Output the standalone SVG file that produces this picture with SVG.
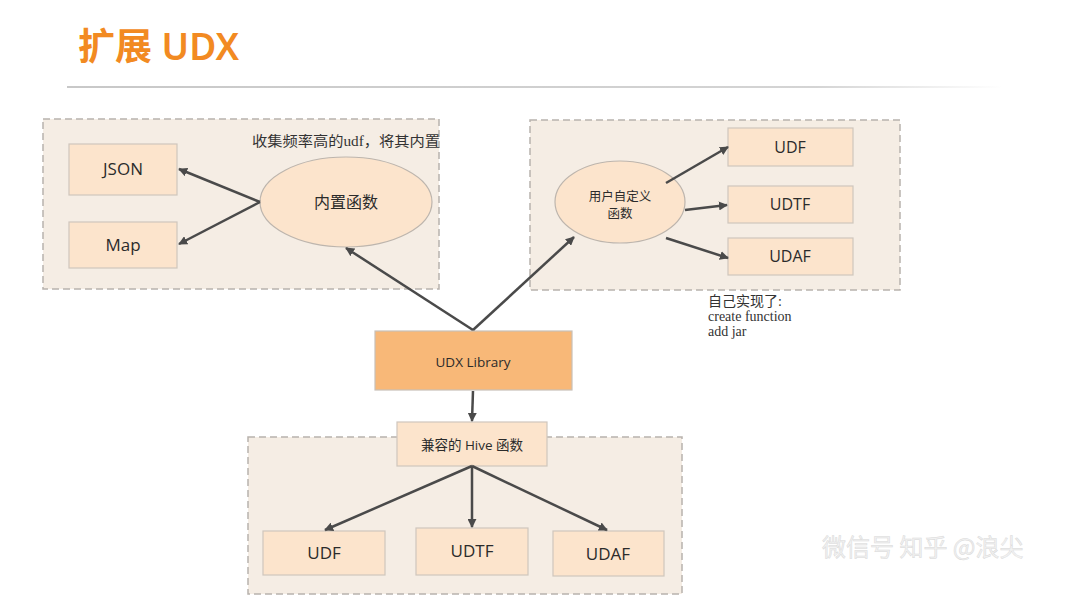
<svg xmlns="http://www.w3.org/2000/svg" width="1080" height="604" viewBox="0 0 1080 604">
<defs>
<linearGradient id="hr" x1="0" x2="1" y1="0" y2="0">
<stop offset="0" stop-color="#c8c8c8"/><stop offset="0.8" stop-color="#d4d4d4"/><stop offset="1" stop-color="#ffffff"/>
</linearGradient>
<marker id="ah" viewBox="0 0 10 10" refX="9" refY="5" markerWidth="9" markerHeight="9" markerUnits="userSpaceOnUse" orient="auto">
<path d="M0,0 L10,5 L0,10 z" fill="#4a4a4a"/>
</marker>
<style>
.grp{fill:#F5EDE4;stroke:#b8b2ad;stroke-width:1.5;stroke-dasharray:7 4}
.box{fill:#FCE4CC;stroke:#cfc6bd;stroke-width:1.2}
.ell{fill:#FCE4CC;stroke:#bdb5ad;stroke-width:1.2}
.lbl{font-family:"Open Sans","Noto Sans","Noto Sans CJK SC",sans-serif;fill:#2b2b2b;text-anchor:middle}
.note{font-family:"Liberation Serif","Noto Sans CJK SC",serif;fill:#333;font-size:14px}
.con line{stroke:#4a4a4a;stroke-width:2.5;marker-end:url(#ah)}
</style>
</defs>
<rect width="1080" height="604" fill="#ffffff"/>
<g id="title">
<text x="78" y="60" font-family="'Noto Sans','Noto Sans CJK SC',sans-serif" font-weight="600" font-size="37" fill="#F28A22">扩展 UDX</text>
<rect x="67" y="86" width="935" height="2" fill="url(#hr)"/>
</g>
<g id="group-builtin"><rect class="grp" x="43" y="119" width="396" height="170"/></g>
<g id="group-user"><rect class="grp" x="530" y="120" width="370" height="170"/></g>
<g id="group-hive"><rect class="grp" x="248" y="437" width="434" height="157"/></g>

<g id="note-builtin"><text class="note" x="252" y="146" font-size="14.5" textLength="188" lengthAdjust="spacingAndGlyphs">收集频率高的udf，将其内置</text></g>
<g id="note-user">
<text class="note" x="708" y="306" font-size="15">自己实现了:</text>
<text class="note" x="708" y="321">create function</text>
<text class="note" x="708" y="336">add jar</text>
</g>

<g id="node-json"><rect class="box" x="69" y="144" width="108" height="51"/><text class="lbl" x="123" y="175" font-size="17">JSON</text></g>
<g id="node-map"><rect class="box" x="69" y="222" width="108" height="46"/><text class="lbl" x="123" y="251" font-size="17">Map</text></g>
<g id="node-builtin"><ellipse class="ell" cx="346" cy="202" rx="86" ry="45"/><text class="lbl" x="346" y="208" font-size="16">内置函数</text></g>

<g id="node-user"><ellipse class="ell" cx="620" cy="202" rx="65" ry="41"/><text class="lbl" x="620" y="201" font-size="12.5">用户自定义</text><text class="lbl" x="620" y="218" font-size="12.5">函数</text></g>
<g id="node-r-udf"><rect class="box" x="728" y="128" width="125" height="38"/><text class="lbl" x="790" y="153" font-size="16">UDF</text></g>
<g id="node-r-udtf"><rect class="box" x="728" y="186" width="125" height="37"/><text class="lbl" x="790" y="210" font-size="16">UDTF</text></g>
<g id="node-r-udaf"><rect class="box" x="728" y="238" width="125" height="37"/><text class="lbl" x="790" y="262" font-size="16">UDAF</text></g>

<g id="node-udx"><rect x="375" y="331" width="197" height="59" fill="#F8B878" stroke="#c9c0b8" stroke-width="1.2"/><text class="lbl" x="473" y="367" font-size="13.5">UDX Library</text></g>

<g id="node-hive"><rect class="box" x="397" y="422" width="150" height="44"/><text class="lbl" x="472" y="450" font-size="13.5">兼容的 Hive 函数</text></g>
<g id="node-b-udf"><rect class="box" x="263" y="531" width="122" height="44"/><text class="lbl" x="324" y="559" font-size="17">UDF</text></g>
<g id="node-b-udtf"><rect class="box" x="416" y="528" width="112" height="47"/><text class="lbl" x="472" y="557" font-size="17">UDTF</text></g>
<g id="node-b-udaf"><rect class="box" x="553" y="531" width="111" height="45"/><text class="lbl" x="608" y="560" font-size="17">UDAF</text></g>

<g id="connectors" class="con">
<line x1="260" y1="202" x2="179" y2="169"/>
<line x1="260" y1="202" x2="179" y2="244"/>
<line x1="473" y1="330" x2="346" y2="248"/>
<line x1="473" y1="330" x2="574" y2="237"/>
<line x1="666" y1="183" x2="728" y2="147"/>
<line x1="685" y1="210" x2="727" y2="205"/>
<line x1="666" y1="238" x2="728" y2="258"/>
<line x1="473" y1="391" x2="472" y2="421"/>
<line x1="472" y1="466" x2="325" y2="530"/>
<line x1="472" y1="466" x2="472" y2="527"/>
<line x1="472" y1="466" x2="607" y2="530"/>
</g>
<g id="watermark"><text x="822" y="556" font-family="'Noto Sans CJK SC',sans-serif" font-size="24" fill="#f2f2f2" stroke="#d9d9d9" stroke-width="0.5">微信号 知乎 @浪尖</text></g>
</svg>
